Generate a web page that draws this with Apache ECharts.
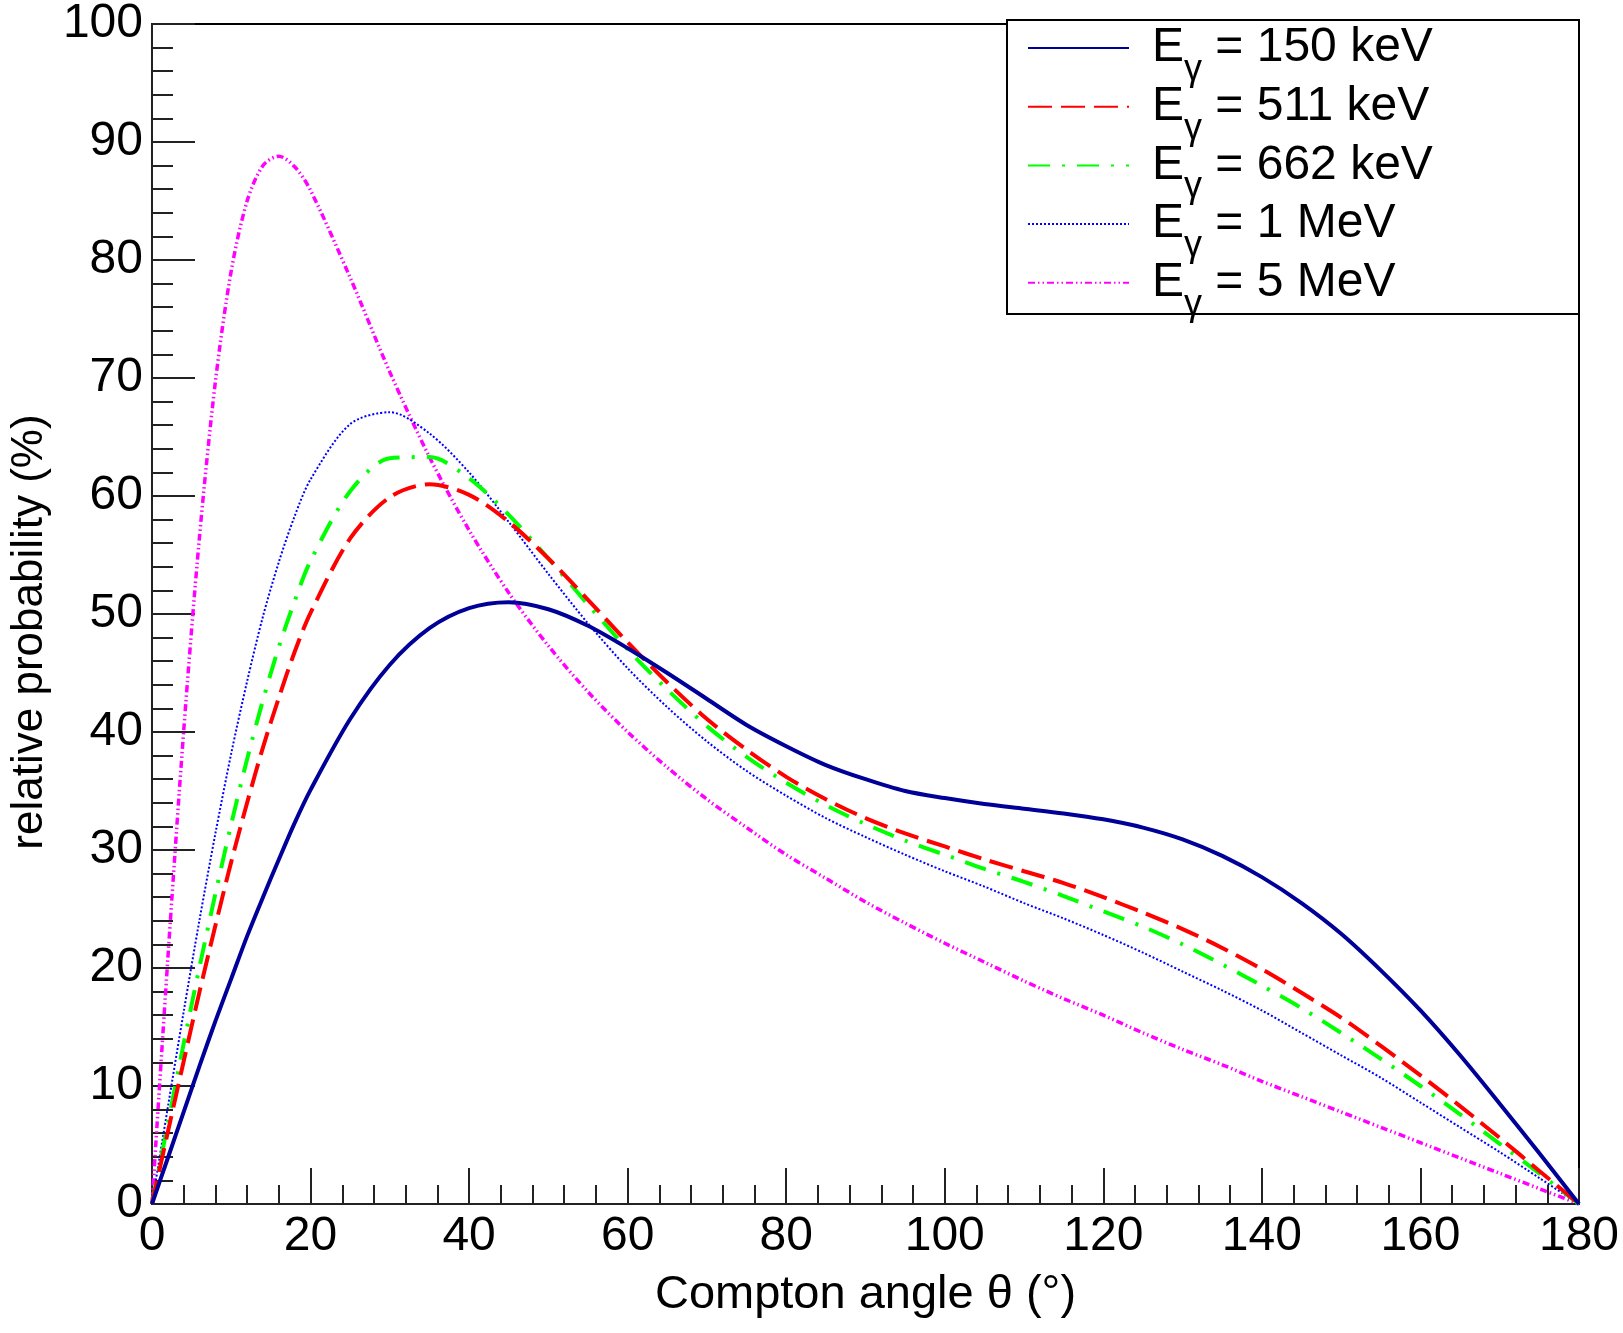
<!DOCTYPE html>
<html>
<head>
<meta charset="utf-8">
<script src="https://cdn.jsdelivr.net/npm/echarts@6/dist/echarts.min.js"></script>
<style>
html,body{margin:0;padding:0;background:#fff;}
#chart{width:1623px;height:1333px;}
</style>
</head>
<body>
<div id="chart"></div>
<script>
// Compton angle θ (degrees) at which values were read
const angles = [0,2,4,6,8,10,12,14,16,18,20,25,30,35,40,45,50,55,60,65,70,75,80,85,90,95,100,105,110,115,120,125,130,135,140,145,150,155,160,165,170,175,180];

// relative probability (%)
const e150 = [0,3.9,7.8,11.7,15.5,19.1,22.7,26.0,29.2,32.3,35.1,41.1,45.7,48.8,50.5,51.0,50.4,49.0,47.1,45.0,42.8,40.6,38.8,37.2,36.0,35.0,34.4,33.9,33.5,33.1,32.6,31.9,30.9,29.5,27.7,25.5,22.9,19.8,16.4,12.6,8.5,4.3,0];
const e511 = [0,6.1,12.1,18.0,23.6,29.0,34.0,38.7,42.9,46.8,50.1,56.4,59.9,61.0,60.1,57.8,54.7,51.2,47.6,44.2,41.1,38.5,36.2,34.3,32.7,31.4,30.3,29.2,28.2,27.2,26.0,24.7,23.3,21.7,19.9,17.9,15.8,13.4,10.9,8.3,5.6,2.8,0];
const e662 = [0,6.8,13.6,20.1,26.3,32.2,37.7,42.7,47.2,51.1,54.5,60.4,63.2,63.3,61.5,58.4,54.7,50.8,47.0,43.6,40.5,37.9,35.7,33.8,32.2,30.8,29.6,28.4,27.3,26.1,24.8,23.5,22.0,20.3,18.5,16.6,14.5,12.3,10.0,7.6,5.1,2.6,0];
const e1MeV = [0,8.2,16.3,24.1,31.4,38.2,44.3,49.8,54.4,58.3,61.4,66.1,67.1,65.3,62.0,57.8,53.4,49.2,45.4,42.1,39.2,36.7,34.6,32.7,31.1,29.6,28.2,26.9,25.5,24.2,22.8,21.3,19.7,18.1,16.4,14.5,12.6,10.7,8.6,6.5,4.4,2.2,0];
const e5MeV = [0,20.8,40.1,56.6,69.7,79.1,85.0,88.0,88.8,87.9,85.9,78.5,70.5,63.3,57.1,51.8,47.3,43.4,40.0,37.0,34.3,31.9,29.6,27.6,25.6,23.8,22.1,20.5,18.9,17.4,16.0,14.5,13.1,11.8,10.4,9.1,7.8,6.5,5.2,3.9,2.6,1.3,0];

const energyLabels = ['150 keV','511 keV','662 keV','1 MeV','5 MeV'];
const xTicks = [0,20,40,60,80,100,120,140,160,180];
const yTicks = [0,10,20,30,40,50,60,70,80,90,100];

const FONT = '"Liberation Sans", Arial, Helvetica, sans-serif';

function pairs(vals){ return angles.map((a,i)=>[a, vals[i]]); }

const seriesDefs = [
  {vals:e150, color:'#000099', width:4, type:'solid'},
  {vals:e511, color:'#ff0000', width:4, type:[24,9]},
  {vals:e662, color:'#00ff00', width:4, type:[22,12,3,12]},
  {vals:e1MeV, color:'#0000ff', width:2, type:[2,2]},
  {vals:e5MeV, color:'#ff00ff', width:3.5, type:[7,3,1.5,3,1.5,3]}
];

const chart = echarts.init(document.getElementById('chart'), null, {renderer:'canvas'});

const series = seriesDefs.map((d,i)=>({
  name: 'Eγ = ' + energyLabels[i],
  type: 'line',
  data: pairs(d.vals),
  showSymbol: false,
  symbol: 'none',
  smooth: 0.3,
  color: d.color,
  lineStyle: {color:d.color, width:d.width, type:d.type, cap:'butt'},
  animation: false,
  z: 2 + (4 - i) * 0.1
}));

const tickStyle = {color:'#222', width:2};

chart.setOption({
  backgroundColor:'#ffffff',
  animation:false,
  grid:{left:145, right:44, top:20, bottom:129, show:true, borderColor:'#000', borderWidth:2, backgroundColor:'transparent'},
  xAxis:{
    type:'value', min:xTicks[0], max:xTicks[xTicks.length-1], interval:xTicks[1]-xTicks[0],
    name:'Compton angle θ (°)', nameLocation:'middle', nameGap:68,
    nameTextStyle:{fontSize:47, color:'#000', fontFamily:FONT},
    axisLine:{show:true, lineStyle:{color:'#222', width:2}},
    axisTick:{show:true, inside:true, length:36, lineStyle:tickStyle},
    minorTick:{show:true, splitNumber:5, length:19, lineStyle:tickStyle},
    axisLabel:{fontSize:48, color:'#000', fontFamily:FONT, margin:9, showMinLabel:true, showMaxLabel:true},
    splitLine:{show:false}
  },
  yAxis:{
    type:'value', min:yTicks[0], max:yTicks[yTicks.length-1], interval:yTicks[1]-yTicks[0],
    name:'relative probability (%)', nameLocation:'middle', nameGap:94,
    nameTextStyle:{fontSize:44, color:'#000', fontFamily:FONT, padding:[0,36,0,0]},
    axisLine:{show:true, lineStyle:{color:'#222', width:2}},
    axisTick:{show:true, inside:true, length:43, lineStyle:tickStyle},
    minorTick:{show:true, splitNumber:5, length:21, lineStyle:tickStyle},
    axisLabel:{fontSize:48, color:'#000', fontFamily:FONT, margin:9, showMinLabel:true, showMaxLabel:true},
    splitLine:{show:false}
  },
  legend:{
    orient:'vertical', left:1027, top:8, padding:0, itemGap:-21.3,
    itemWidth:101, itemHeight:14,
    data: energyLabels.map(e=>'Eγ = ' + e),
    z:5,
    itemStyle:{color:'rgba(0,0,0,0)', borderColor:'rgba(0,0,0,0)', borderWidth:0},
    formatter: function(name){
      const s = name.replace('Eγ = ','');
      return '{e|E}{g|γ}{t| = ' + s + '}';
    },
    textStyle:{
      color:'#000', fontSize:48, fontFamily:FONT,
      rich:{
        e:{fontSize:48, color:'#000', fontFamily:FONT, padding:[0,0,0,18]},
        g:{fontSize:36, color:'#000', fontFamily:FONT, lineHeight:1, padding:[44,0,0,0]},
        t:{fontSize:48, color:'#000', fontFamily:FONT}
      }
    }
  },
  graphic:[{
    type:'rect', z:3,
    shape:{x:1007, y:20, width:572, height:294},
    style:{fill:'#fff', stroke:'#000', lineWidth:2}
  }],
  series: series
});
</script>
</body>
</html>
